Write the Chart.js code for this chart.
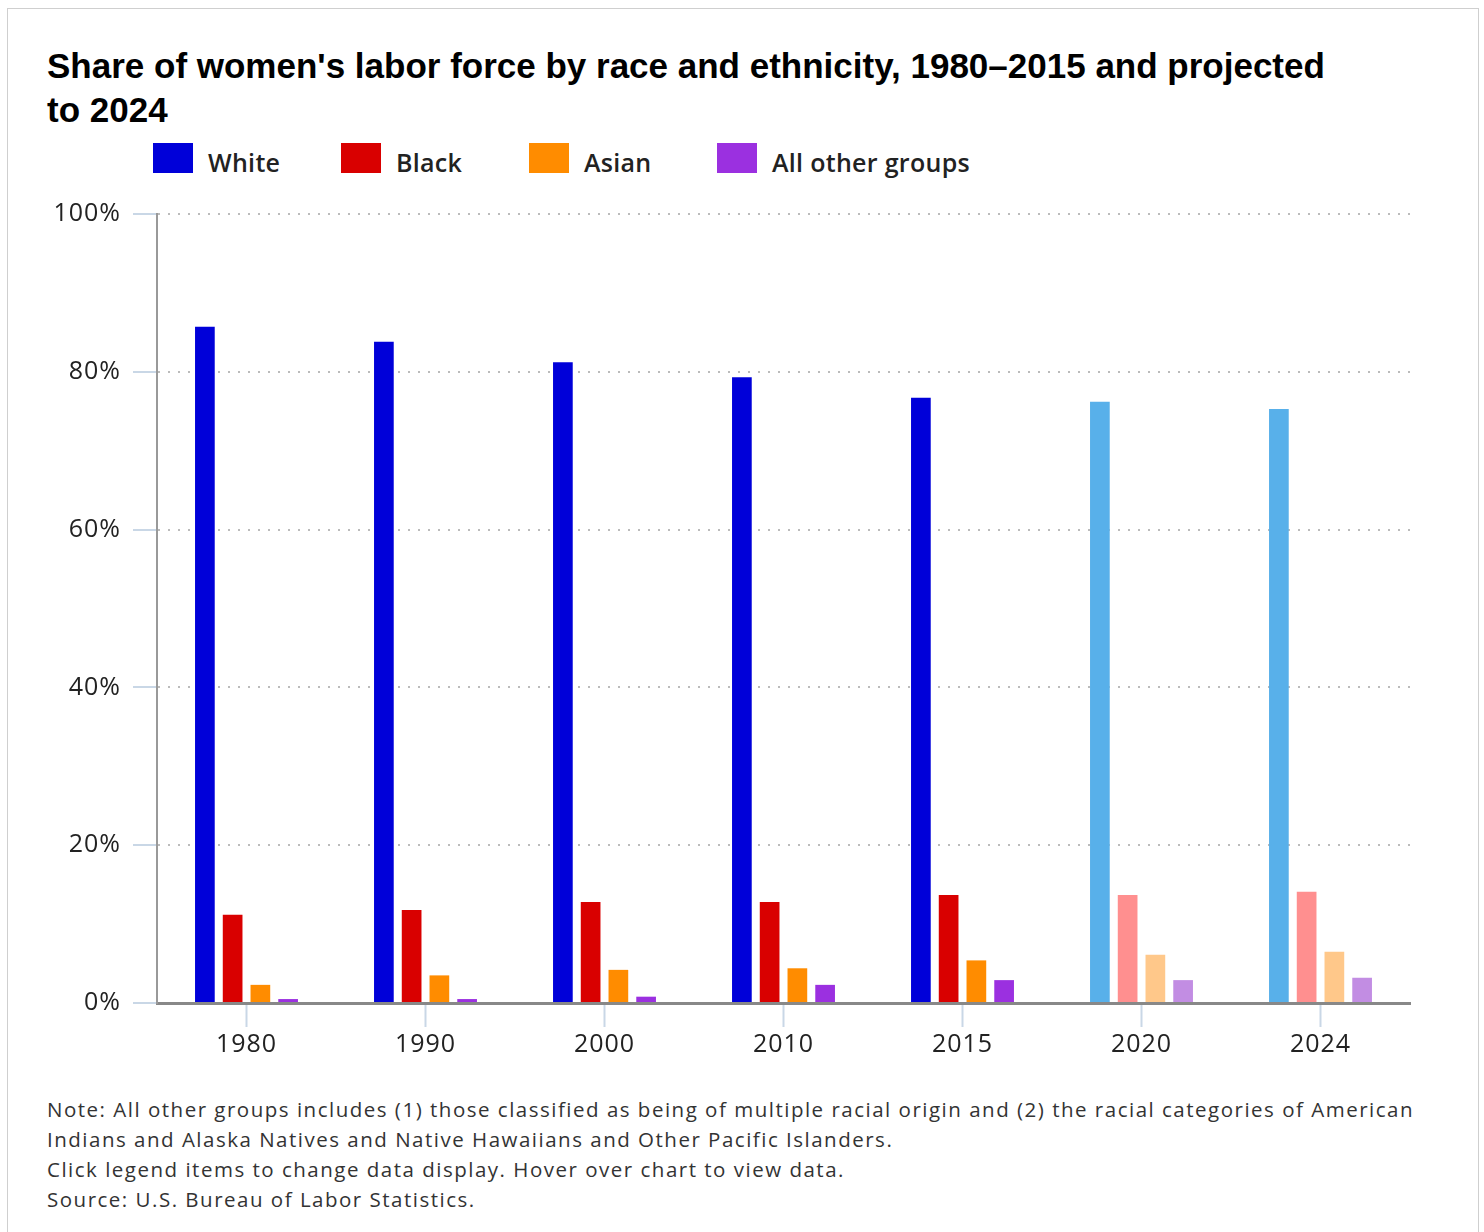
<!DOCTYPE html>
<html>
<head>
<meta charset="utf-8">
<script src="https://cdn.jsdelivr.net/npm/chart.js@4"></script>
<style>
  body { margin: 0; background: #fff; }
  #frame { position: absolute; left: 7px; top: 8px; width: 1472px; height: 1240px; border: 1px solid #cfcfcf; box-sizing: border-box; }
  #title { position: absolute; left: 47px; top: 44px; margin: 0; white-space: nowrap;
    font: bold 35px "Liberation Sans", Arial, sans-serif; line-height: 44px; color: #000; }
  #legend { position: absolute; left: 153px; top: 143px; height: 30px; }
  .item { position: absolute; top: 0; height: 30px; white-space: nowrap; }
  .box { position: absolute; left: 0; top: 0; width: 40px; height: 30px; }
  .lbl { position: absolute; left: 55px; top: 2px; font: 600 25px "Open Sans", sans-serif; line-height: 34px; color: #222; letter-spacing: 0.3px; }
  #wrap { position: absolute; left: 0; top: 187px; width: 1450px; height: 884px; }
  #note { position: absolute; left: 47px; top: 1094px; font: 20.5px "Open Sans", sans-serif; line-height: 30px; color: #333; white-space: nowrap; letter-spacing: 1.5px; }
</style>
</head>
<body>
<div id="frame"></div>
<h1 id="title">Share of women's labor force by race and ethnicity, 1980–2015 and projected<br>to 2024</h1>
<div id="legend"></div>
<div id="wrap"><canvas id="chart"></canvas></div>
<div id="note">Note: All other groups includes (1) those classified as being of multiple racial origin and (2) the racial categories of American<br>Indians and Alaska Natives and Native Hawaiians and Other Pacific Islanders.<br>Click legend items to change data display. Hover over chart to view data.<br>Source: U.S. Bureau of Labor Statistics.</div>
<script>
// años (2020 y 2024 son proyecciones)
const years = ['1980', '1990', '2000', '2010', '2015', '2020', '2024'];
const projected = [false, false, false, false, false, true, true];

// porcentaje del total de mujeres en la fuerza laboral
const white = [85.7, 83.8, 81.2, 79.3, 76.7, 76.2, 75.3];
const black = [11.2, 11.8, 12.8, 12.8, 13.7, 13.7, 14.1];
const asian = [2.3, 3.5, 4.2, 4.4, 5.4, 6.1, 6.5];
const other = [0.5, 0.5, 0.8, 2.3, 2.9, 2.9, 3.2];

const yTicks = [0, 20, 40, 60, 80, 100];

const series = [
  { label: 'White', data: white, color: '#0000d9', light: '#58b0ea' },
  { label: 'Black', data: black, color: '#d90000', light: '#ff8f8f' },
  { label: 'Asian', data: asian, color: '#ff8c00', light: '#ffc88a' },
  { label: 'All other groups', data: other, color: '#9b30e0', light: '#c28de3' }
];

// leyenda en HTML (espaciado fijo como el original)
const legend = document.getElementById('legend');
series.forEach((s, i) => {
  const it = document.createElement('div');
  it.className = 'item';
  it.style.left = (i * 188) + 'px';
  it.innerHTML = '<span class="box" style="background:' + s.color + '"></span><span class="lbl">' + s.label + '</span>';
  legend.appendChild(it);
});

const tickFont = { family: '"Open Sans", sans-serif', size: 25 };

// un poco de espacio entre letras, como en el original
const spacing = {
  id: 'spacing',
  beforeLayout: c => { c.ctx.letterSpacing = '1px'; },
  beforeDraw: c => { c.ctx.letterSpacing = '1px'; }
};

new Chart(document.getElementById('chart').getContext('2d'), {
  type: 'bar',
  data: {
    labels: years,
    datasets: series.map(s => ({
      label: s.label,
      data: s.data,
      backgroundColor: projected.map(p => p ? s.light : s.color),
      categoryPercentage: 0.62,
      barPercentage: 0.71
    }))
  },
  plugins: [spacing],
  options: {
    responsive: true,
    maintainAspectRatio: false,
    animation: false,
    layout: { padding: { left: 0, right: 40, top: 10, bottom: 10 } },
    plugins: { legend: { display: false }, tooltip: { enabled: false } },
    scales: {
      x: {
        afterFit: s => { s.height = 58; },
        grid: { offset: false, drawOnChartArea: false, drawTicks: true, tickLength: 24, tickColor: '#c9d7e6', tickWidth: 2 },
        border: { color: '#888', width: 3 },
        ticks: { color: '#222', font: tickFont, padding: 3 }
      },
      y: {
        min: 0,
        max: 100,
        afterFit: s => { s.width = 157; },
        afterBuildTicks: s => { s.ticks = yTicks.map(v => ({ value: v })); },
        grid: { color: '#bbb', lineWidth: 2, tickLength: 24, tickColor: '#c9d7e6', tickWidth: 2, tickBorderDash: [] },
        border: { color: '#999', width: 2, dash: [2, 8] },
        ticks: { color: '#222', font: tickFont, padding: 12, callback: v => v + '%' }
      }
    }
  }
});
</script>
</body>
</html>
